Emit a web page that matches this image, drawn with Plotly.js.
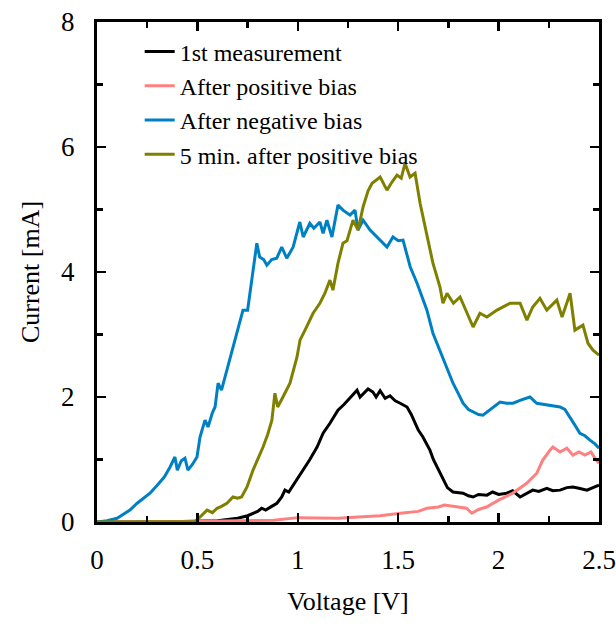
<!DOCTYPE html>
<html>
<head>
<meta charset="utf-8">
<script src="https://cdn.plot.ly/plotly-3.0.1.min.js"></script>
<style>html,body{margin:0;padding:0;background:#fff;}</style>
</head>
<body>
<div id="chart" style="width:616px;height:628px;"></div>
<script>
const seriesNames = ["1st measurement", "After positive bias", "After negative bias", "5 min. after positive bias"];

const firstV = [0, 0.3, 0.6, 0.7, 0.75, 0.777, 0.8, 0.82, 0.84, 0.87, 0.896, 0.92, 0.936, 0.955, 0.975, 0.996, 1.026, 1.06, 1.096, 1.126, 1.16, 1.20, 1.23, 1.26, 1.295, 1.31, 1.325, 1.35, 1.374, 1.39, 1.41, 1.435, 1.459, 1.485, 1.51, 1.544, 1.565, 1.584, 1.6, 1.623, 1.64, 1.658, 1.675, 1.693, 1.71, 1.723, 1.745, 1.773, 1.8, 1.823, 1.85, 1.873, 1.9, 1.942, 1.97, 2.0, 2.04, 2.07, 2.107, 2.14, 2.17, 2.2, 2.24, 2.27, 2.306, 2.34, 2.37, 2.4, 2.44, 2.47, 2.5];
const firstI = [0, 0, 0.02, 0.06, 0.1, 0.14, 0.17, 0.22, 0.19, 0.25, 0.3, 0.4, 0.51, 0.48, 0.58, 0.67, 0.83, 1.0, 1.2, 1.42, 1.58, 1.79, 1.88, 1.98, 2.11, 2.0, 2.05, 2.13, 2.08, 2.0, 2.1, 1.98, 2.02, 1.94, 1.9, 1.84, 1.72, 1.58, 1.47, 1.36, 1.25, 1.15, 1.0, 0.88, 0.76, 0.67, 0.55, 0.48, 0.47, 0.46, 0.42, 0.40, 0.44, 0.43, 0.48, 0.44, 0.46, 0.5, 0.40, 0.46, 0.51, 0.49, 0.54, 0.5, 0.51, 0.55, 0.56, 0.54, 0.51, 0.55, 0.59];

const posV = [0, 0.3, 0.5, 0.7, 0.88, 1.0, 1.1, 1.2, 1.3, 1.41, 1.51, 1.6, 1.643, 1.7, 1.73, 1.78, 1.84, 1.867, 1.9, 1.94, 2.0, 2.07, 2.14, 2.19, 2.22, 2.256, 2.27, 2.306, 2.34, 2.37, 2.4, 2.43, 2.46, 2.48, 2.5];
const posI = [0, 0, 0.01, 0.02, 0.03, 0.07, 0.06, 0.06, 0.08, 0.1, 0.14, 0.17, 0.22, 0.24, 0.27, 0.25, 0.22, 0.14, 0.2, 0.24, 0.35, 0.46, 0.62, 0.78, 0.99, 1.15, 1.2, 1.12, 1.18, 1.07, 1.12, 1.07, 1.12, 1.02, 0.94];

const negV = [0, 0.05, 0.1, 0.164, 0.2, 0.264, 0.3, 0.335, 0.364, 0.388, 0.40, 0.42, 0.438, 0.453, 0.475, 0.498, 0.513, 0.538, 0.553, 0.575, 0.588, 0.603, 0.62, 0.647, 0.677, 0.70, 0.727, 0.75, 0.765, 0.777, 0.796, 0.81, 0.83, 0.846, 0.87, 0.895, 0.92, 0.945, 0.977, 1.01, 1.027, 1.06, 1.08, 1.11, 1.126, 1.145, 1.17, 1.20, 1.225, 1.26, 1.285, 1.30, 1.325, 1.36, 1.394, 1.42, 1.444, 1.474, 1.5, 1.524, 1.56, 1.594, 1.62, 1.643, 1.673, 1.7, 1.723, 1.75, 1.773, 1.8, 1.823, 1.85, 1.873, 1.9, 1.922, 1.95, 1.972, 2.007, 2.04, 2.072, 2.11, 2.156, 2.19, 2.24, 2.27, 2.306, 2.33, 2.356, 2.38, 2.405, 2.43, 2.455, 2.48, 2.5];
const negI = [0, 0.02, 0.06, 0.19, 0.3, 0.46, 0.59, 0.72, 0.88, 1.04, 0.83, 0.98, 1.02, 0.83, 0.92, 1.04, 1.36, 1.63, 1.52, 1.75, 1.84, 2.22, 2.11, 2.43, 2.8, 3.07, 3.39, 3.39, 3.75, 4.08, 4.46, 4.24, 4.2, 4.11, 4.2, 4.22, 4.4, 4.22, 4.4, 4.8, 4.56, 4.78, 4.7, 4.8, 4.62, 4.83, 4.56, 5.07, 4.99, 4.91, 4.99, 4.67, 4.83, 4.67, 4.56, 4.48, 4.4, 4.56, 4.5, 4.51, 4.08, 3.82, 3.6, 3.39, 3.02, 2.8, 2.64, 2.42, 2.22, 2.05, 1.9, 1.8, 1.76, 1.72, 1.71, 1.78, 1.82, 1.92, 1.9, 1.9, 1.95, 2.0, 1.9, 1.87, 1.86, 1.84, 1.8, 1.68, 1.55, 1.42, 1.38, 1.31, 1.25, 1.18];

const fiveV = [0, 0.3, 0.49, 0.513, 0.548, 0.575, 0.598, 0.62, 0.647, 0.677, 0.70, 0.72, 0.747, 0.777, 0.80, 0.827, 0.85, 0.871, 0.886, 0.90, 0.926, 0.961, 0.996, 1.011, 1.036, 1.076, 1.11, 1.135, 1.16, 1.175, 1.20, 1.225, 1.245, 1.275, 1.30, 1.325, 1.35, 1.37, 1.41, 1.444, 1.469, 1.494, 1.515, 1.534, 1.559, 1.584, 1.609, 1.643, 1.673, 1.708, 1.723, 1.743, 1.775, 1.808, 1.843, 1.873, 1.907, 1.942, 1.992, 2.057, 2.107, 2.141, 2.17, 2.206, 2.24, 2.29, 2.316, 2.356, 2.38, 2.42, 2.445, 2.47, 2.5];
const fiveI = [0, 0, 0.01, 0.08, 0.19, 0.15, 0.22, 0.25, 0.3, 0.4, 0.38, 0.4, 0.56, 0.83, 1.0, 1.2, 1.4, 1.63, 2.06, 1.84, 2.0, 2.22, 2.64, 2.91, 3.07, 3.34, 3.5, 3.66, 3.87, 3.71, 4.14, 4.46, 4.5, 4.83, 4.67, 5.04, 5.3, 5.42, 5.52, 5.31, 5.44, 5.55, 5.5, 5.74, 5.52, 5.58, 5.1, 4.56, 4.14, 3.76, 3.5, 3.66, 3.5, 3.6, 3.34, 3.12, 3.34, 3.28, 3.39, 3.5, 3.5, 3.23, 3.44, 3.58, 3.39, 3.55, 3.28, 3.66, 3.07, 3.15, 2.86, 2.75, 2.67];

const colors = ["#000000", "#ff8080", "#0080c4", "#808000"];
const xs = [firstV, posV, negV, fiveV];
const ys = [firstI, posI, negI, fiveI];

const font = "Liberation Serif";

const traces = seriesNames.map((n, i) => ({
  x: xs[i], y: ys[i], name: n, type: "scatter", mode: "lines",
  line: {color: colors[i], width: 3}
}));

const axisCommon = {
  showline: true, linecolor: "#000", linewidth: 3, mirror: "all",
  ticks: "inside", ticklen: 9, tickwidth: 2.5, tickcolor: "#000",
  showgrid: false, zeroline: false,
  tickfont: {family: font, size: 27, color: "#000"}
};

const layout = {
  width: 616, height: 628,
  margin: {l: 97, r: 17, t: 22, b: 106},
  paper_bgcolor: "#fff", plot_bgcolor: "#fff",
  font: {family: font, color: "#000"},
  showlegend: true,
  legend: {x: 0.085, y: 0.985, xanchor: "left", yanchor: "top",
    bgcolor: "rgba(0,0,0,0)", font: {family: font, size: 24, color: "#000"}},
  xaxis: Object.assign({}, axisCommon, {
    range: [0, 2.5], dtick: 0.5, tick0: 0,
    ticklabelstandoff: 12,
    minor: {dtick: 0.25, ticks: "inside", ticklen: 6, tickwidth: 2.5, tickcolor: "#000"},
    title: {text: "Voltage [V]", font: {family: font, size: 26, color: "#000"}, standoff: 18}
  }),
  yaxis: Object.assign({}, axisCommon, {
    range: [0, 8], dtick: 2, tick0: 0,
    ticklabelstandoff: 14,
    minor: {dtick: 1, ticks: "inside", ticklen: 6, tickwidth: 2.5, tickcolor: "#000"},
    title: {text: "Current [mA]", font: {family: font, size: 26, color: "#000"}, standoff: 14}
  })
};

Plotly.newPlot("chart", traces, layout, {displayModeBar: false, staticPlot: true});
</script>
</body>
</html>
